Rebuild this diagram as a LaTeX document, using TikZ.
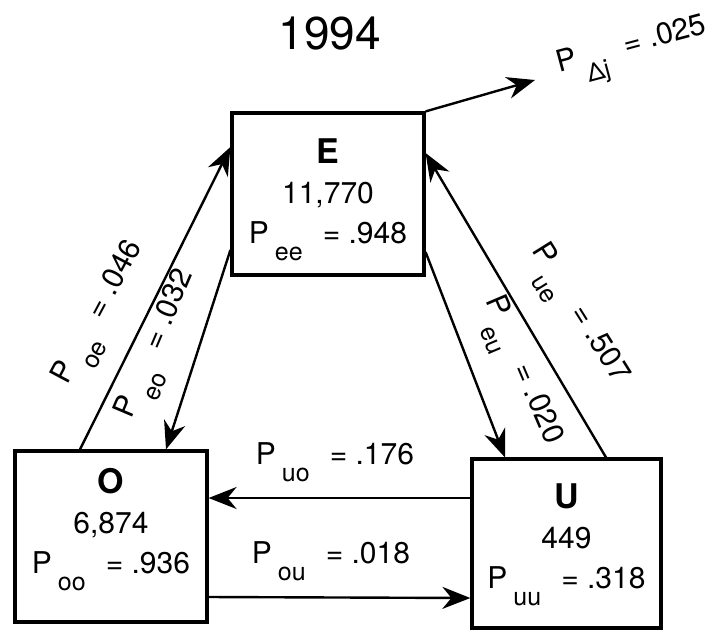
\documentclass[tikz,border=0pt]{standalone}
\usepackage{fontspec}
\setmainfont{TeX Gyre Heros}
\usetikzlibrary{arrows.meta}

\newcommand{\prob}[2]{P\hspace{3pt}\raisebox{-8.5pt}{\fontsize{12.5}{12.5}\selectfont #1}\hspace{10pt}= #2}
\newcommand{\stname}[1]{{\fontsize{17}{20}\selectfont\bfseries #1}}

\begin{document}
\begin{tikzpicture}[x=0.5pt, y=-0.5pt,
    state/.style={draw, line width=1.6pt, inner sep=0pt},
    content/.style={anchor=north, inner sep=0pt, align=center, font=\fontsize{15}{20}\selectfont},
    trans/.style={line width=1.2pt, -{Stealth[length=14pt, width=11pt, inset=4.5pt]}},
    plabel/.style={inner sep=0pt, font=\fontsize{15}{18}\selectfont}]
  \useasboundingbox (0,0) rectangle (720,629);

  % Title
  \node[font=\fontsize{23}{27}\selectfont] (year) at (330,34) {1994};

  % States
  \node[state, minimum width=96pt, minimum height=81pt] (E) at (328,194) {};
  \node[state, minimum width=96pt, minimum height=85.5pt] (O) at (111,536.5) {};
  \node[state, minimum width=94.5pt, minimum height=84.5pt] (U) at (566.5,543.5) {};

  \node[content] (Etext) at ([yshift=-13.7pt]E.north) {\stname{E}\\11,770\\\prob{ee}{.948}};
  \node[content] (Otext) at ([yshift=-9.2pt]O.north) {\stname{O}\\6,874\\\prob{oo}{.936}};
  \node[content] (Utext) at ([yshift=-13.2pt]U.north) {\stname{U}\\449\\\prob{uu}{.318}};

  % Transitions
  \draw[trans] ([xshift=-15.5pt]O.north) -- ([yshift=23.5pt]E.west);
  \draw[trans] ([yshift=-28pt]E.west) -- ([xshift=27.5pt]O.north);
  \draw[trans] ([yshift=-29pt]E.east) -- ([xshift=-30.75pt]U.north);
  \draw[trans] ([xshift=19.75pt]U.north) -- ([yshift=20.5pt]E.east);
  \draw[trans] ([yshift=22.75pt]U.west) -- ([yshift=19.25pt]O.east);
  \draw[trans] ([yshift=-30.25pt]O.east) -- ([yshift=-27.25pt]U.west);

  % Exit
  \coordinate (exit) at (535,80);
  \draw[trans] (E.north east) -- (exit);

  % Labels
  \node[plabel, rotate=62] (poe) at (103,315) {\prob{oe}{.046}};
  \node[plabel, rotate=67] (peo) at (160,346) {\prob{eo}{.032}};
  \node[plabel, rotate=-58] (pue) at (575,316) {\prob{ue}{.507}};
  \node[plabel, rotate=-67] (peu) at (518,372) {\prob{eu}{.020}};
  \node[plabel] (puo) at (335,462) {\prob{uo}{.176}};
  \node[plabel] (pou) at (331,561) {\prob{ou}{.018}};
  \node[plabel, rotate=15] (pdj) at (634,53) {\prob{Δj}{.025}};
\end{tikzpicture}
\end{document}
